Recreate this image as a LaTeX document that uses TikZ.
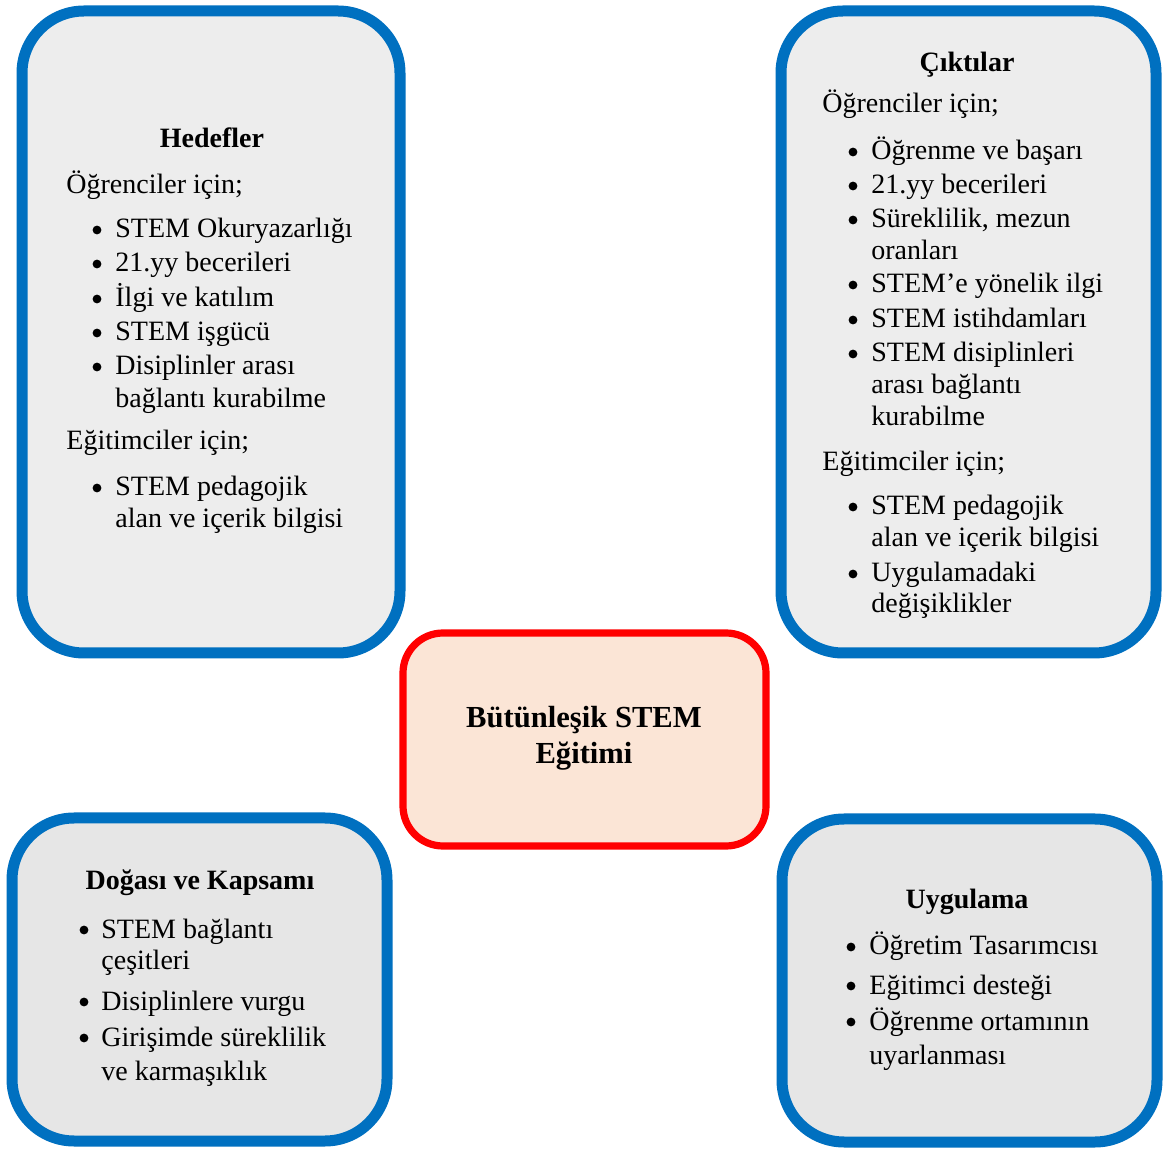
\documentclass[tikz,border=0pt]{standalone}
\usepackage{fontspec}
\setmainfont{Liberation Serif}
\definecolor{bblue}{HTML}{0070C0}
\definecolor{tfill}{HTML}{EDEDED}
\definecolor{bfill}{HTML}{E6E6E6}
\definecolor{cfill}{HTML}{FBE5D6}
\definecolor{cred}{HTML}{FF0000}
\tikzset{
  bluebox/.style={draw=bblue, line width=5.5pt, rounded corners=31pt, inner sep=0pt},
  centerbox/.style={draw=cred, fill=cfill, line width=3.6pt, rounded corners=20pt, inner sep=0pt},
  txt/.style={anchor=base west, inner sep=0pt, font=\fontsize{14}{17}\selectfont},
  ttl/.style={anchor=base, inner sep=0pt, font=\bfseries\fontsize{14}{17}\selectfont},
  cttl/.style={anchor=base, inner sep=0pt, font=\bfseries\fontsize{15.3}{18}\selectfont},
  bul/.style={circle, fill=black, inner sep=0pt, minimum size=4.4pt, yshift=4pt}
}
\begin{document}
\begin{tikzpicture}[x=0.5pt,y=-0.5pt]
\fill[white] (0,0) rectangle (1163,1149);
\useasboundingbox (0,0) rectangle (1163,1149);
% boxes
\node[bluebox, fill=tfill, minimum width=189pt, minimum height=321pt] (hed) at (211,332) {};
\node[bluebox, fill=tfill, minimum width=187.5pt, minimum height=321pt] (cik) at (968.5,332) {};
\node[bluebox, fill=bfill, minimum width=187.5pt, minimum height=161.5pt] (dog) at (199.5,979.5) {};
\node[bluebox, fill=bfill, minimum width=187.5pt, minimum height=161.5pt] (uyg) at (969.5,980.5) {};
\node[centerbox, minimum width=181.5pt, minimum height=106.5pt] (cen) at (584.5,739.5) {};
% center text
\node[cttl] (c1) at (584,728) {Bütünleşik STEM};
\node[cttl] (c2) at (584,764) {Eğitimi};
% Hedefler
\node[ttl] (h0) at (212,148) {Hedefler};
\node[txt] (h1) at (66,194) {Öğrenciler için;};
\node[bul] (hb1) at (97,238) {}; \node[txt] (h2) at (115,238) {STEM Okuryazarlığı};
\node[bul] (hb2) at (97,272) {}; \node[txt] (h3) at (115,272) {21.yy becerileri};
\node[bul] (hb3) at (97,307) {}; \node[txt] (h4) at (115,307) {İlgi ve katılım};
\node[bul] (hb4) at (97,341) {}; \node[txt] (h5) at (115,341) {STEM işgücü};
\node[bul] (hb5) at (97,375) {}; \node[txt] (h6) at (115,375) {Disiplinler arası};
\node[txt] (h7) at (115,408) {bağlantı kurabilme};
\node[txt] (h8) at (66,450) {Eğitimciler için;};
\node[bul] (hb6) at (97,496) {}; \node[txt] (h9) at (115,496) {STEM pedagojik};
\node[txt] (h10) at (115,528) {alan ve içerik bilgisi};
% Ciktilar
\node[ttl] (k0) at (967,72) {Çıktılar};
\node[txt] (k1) at (822,113) {Öğrenciler için;};
\node[bul] (kb1) at (853,160) {}; \node[txt] (k2) at (871,160) {Öğrenme ve başarı};
\node[bul] (kb2) at (853,194) {}; \node[txt] (k3) at (871,194) {21.yy becerileri};
\node[bul] (kb3) at (853,228) {}; \node[txt] (k4) at (871,228) {Süreklilik, mezun};
\node[txt] (k5) at (871,260) {oranları};
\node[bul] (kb4) at (853,293) {}; \node[txt] (k6) at (871,293) {STEM’e yönelik ilgi};
\node[bul] (kb5) at (853,328) {}; \node[txt] (k7) at (871,328) {STEM istihdamları};
\node[bul] (kb6) at (853,362) {}; \node[txt] (k8) at (871,362) {STEM disiplinleri};
\node[txt] (k9) at (871,394) {arası bağlantı};
\node[txt] (k10) at (871,426) {kurabilme};
\node[txt] (k11) at (822,471) {Eğitimciler için;};
\node[bul] (kb7) at (853,515) {}; \node[txt] (k12) at (871,515) {STEM pedagojik};
\node[txt] (k13) at (871,547) {alan ve içerik bilgisi};
\node[bul] (kb8) at (853,582) {}; \node[txt] (k14) at (871,582) {Uygulamadaki};
\node[txt] (k15) at (871,613) {değişiklikler};
% Dogasi
\node[ttl] (d0) at (200,890) {Doğası ve Kapsamı};
\node[bul] (db1) at (84,938) {}; \node[txt] (d1) at (101,938) {STEM bağlantı};
\node[txt] (d2) at (101,970) {çeşitleri};
\node[bul] (db2) at (84,1010) {}; \node[txt] (d3) at (101,1010) {Disiplinlere vurgu};
\node[bul] (db3) at (84,1046) {}; \node[txt] (d4) at (101,1046) {Girişimde süreklilik};
\node[txt] (d5) at (101,1080) {ve karmaşıklık};
% Uygulama
\node[ttl] (u0) at (967,908) {Uygulama};
\node[bul] (ub1) at (851,955) {}; \node[txt] (u1) at (869,955) {Öğretim Tasarımcısı};
\node[bul] (ub2) at (851,994) {}; \node[txt] (u2) at (869,994) {Eğitimci desteği};
\node[bul] (ub3) at (851,1030) {}; \node[txt] (u3) at (869,1030) {Öğrenme ortamının};
\node[txt] (u4) at (869,1064) {uyarlanması};
\end{tikzpicture}
\end{document}
